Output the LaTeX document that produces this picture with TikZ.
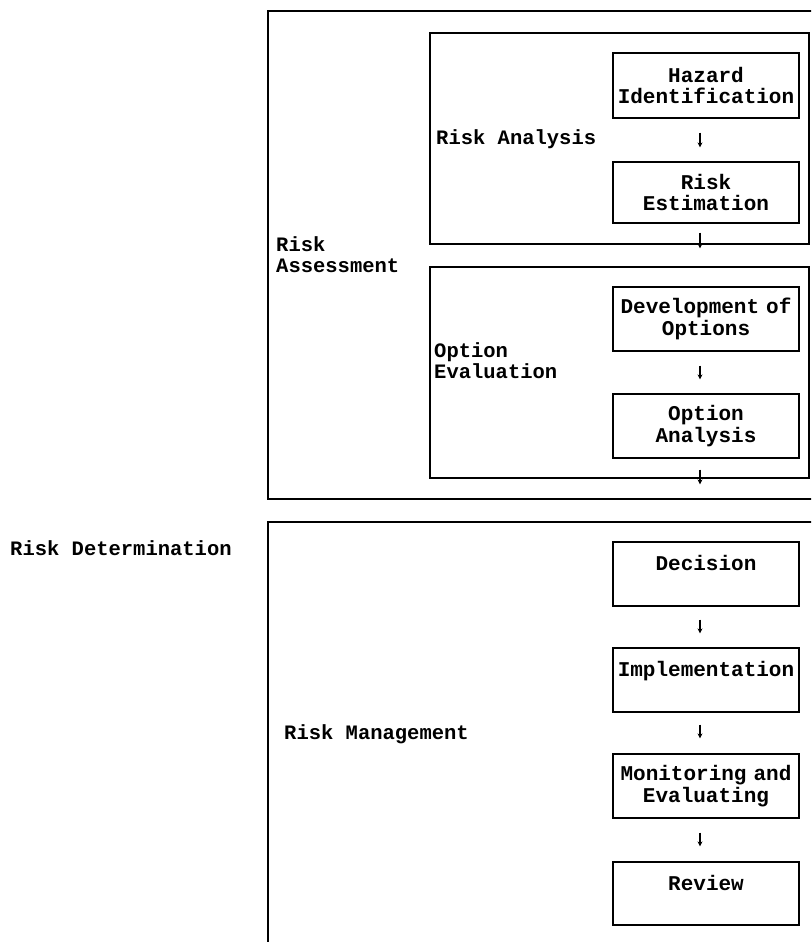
\documentclass[tikz,border=0pt]{standalone}
\usepackage{fontspec}
\setmainfont{Liberation Mono}[WordSpace={1,0,0}]
\usetikzlibrary{arrows.meta}
\tikzset{
  frame/.style={draw=black, line width=1.3pt},
  stepbox/.style={draw=black, line width=1.2pt, minimum width=186pt, text width=184pt,
    align=center, inner sep=0pt, font=\fontsize{21}{21.5}\selectfont\bfseries},
  lbl/.style={anchor=west, align=left, inner sep=0pt, font=\fontsize{20.5}{21}\selectfont\bfseries},
  arr/.style={line width=1.8pt, -{Stealth[length=5pt,width=5pt]}}
}
\begin{document}
\begin{tikzpicture}[x=1pt, y=-1pt]
\useasboundingbox (0,0) rectangle (811,942);
\clip (0,0) rectangle (811,942);

% outer frames (running past the right and bottom edges)
\draw[frame] (268,11) rectangle (840,499);
\draw[frame] (268,522) rectangle (840,960);
% inner frames
\draw[frame] (430,33) rectangle (809,244);
\draw[frame] (430,267) rectangle (809,478);

% boxes
\node[stepbox, minimum height=65pt] (haz) at (706,85.5) {Hazard\\Identification};
\node[stepbox, minimum height=61pt] (est) at (706,192.5) {Risk\\Estimation};
\node[stepbox, minimum height=64pt] (dev) at (706,319) {Development of\\Options};
\node[stepbox, minimum height=64pt] (ana) at (706,426) {Option\\Analysis};
\node[stepbox, minimum height=64pt] (dec) at (706,574) {Decision\\~};
\node[stepbox, minimum height=64pt] (imp) at (706,680) {Implementation\\~};
\node[stepbox, minimum height=64pt] (mon) at (706,786) {Monitoring and\\Evaluating};
\node[stepbox, minimum height=63pt] (rev) at (706,893.5) {Review\\~};

% labels
\node[lbl] (ra) at (436,139) {Risk Analysis};
\node[lbl] (rass) at (276,254.5) {Risk\\Assessment};
\node[lbl] (oe) at (434,361) {Option\\Evaluation};
\node[lbl] (rd) at (10,548) {Risk Determination};
\node[lbl] (rm) at (284,734) {Risk Management};

% flow arrows
\draw[arr, shorten <=14pt, shorten >=14pt] ([xshift=-6pt]haz.south) -- ([xshift=-6pt]est.north);
\draw[arr, shorten <=9pt, shorten >=38pt] ([xshift=-6pt]est.south) -- ([xshift=-6pt]dev.north);
\draw[arr, shorten <=14pt, shorten >=14pt] ([xshift=-6pt]dev.south) -- ([xshift=-6pt]ana.north);
\draw[arr, shorten <=11pt, shorten >=57pt] ([xshift=-6pt]ana.south) -- ([xshift=-6pt]dec.north);
\draw[arr, shorten <=13pt, shorten >=14pt] ([xshift=-6pt]dec.south) -- ([xshift=-6pt]imp.north);
\draw[arr, shorten <=12pt, shorten >=15pt] ([xshift=-6pt]imp.south) -- ([xshift=-6pt]mon.north);
\draw[arr, shorten <=14pt, shorten >=15pt] ([xshift=-6pt]mon.south) -- ([xshift=-6pt]rev.north);
\end{tikzpicture}
\end{document}
